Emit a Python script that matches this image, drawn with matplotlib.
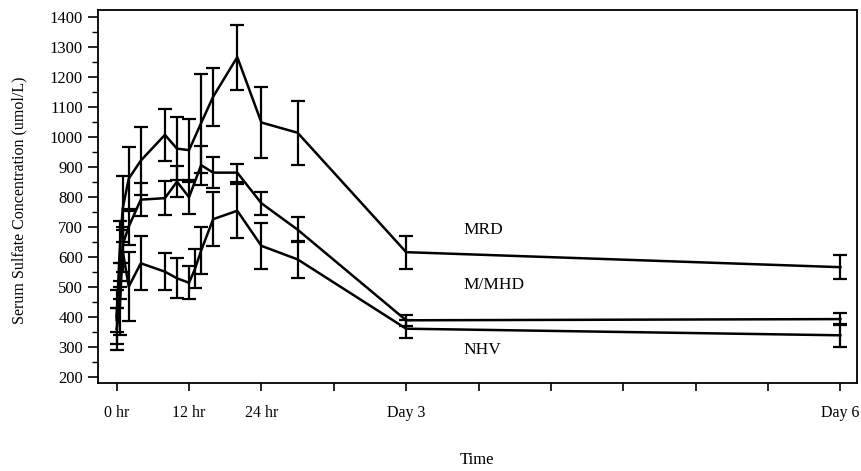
import numpy as np
import matplotlib.pyplot as plt
from matplotlib.ticker import MultipleLocator

plt.rcParams['font.family'] = ['Liberation Serif', 'DejaVu Serif']

# hours after start of dialysis (Day 3 = 48 hr, Day 6 = 120 hr)
mrd_t = [0, 0.5, 1, 2, 4, 8, 10, 12, 14, 16, 20, 24, 30, 48, 120]
mrd_v = [400, 620, 760, 860, 920, 1006, 960, 955, 1045, 1133, 1265, 1047, 1013, 615, 565]
mrd_e = [90, 100, 110, 107, 113, 87, 105, 105, 165, 97, 108, 118, 107, 55, 40]

mhd_t = [0, 0.5, 1, 2, 4, 8, 10, 12, 14, 16, 20, 24, 30, 48, 120]
mhd_v = [390, 520, 640, 700, 790, 795, 850, 798, 905, 880, 880, 778, 690, 388, 392]
mhd_e = [40, 60, 60, 60, 55, 57, 52, 57, 65, 52, 30, 38, 42, 18, 20]

nhv_t = [0, 0.5, 1, 2, 4, 8, 10, 12, 13, 14, 16, 20, 24, 30, 48, 120]
nhv_v = [360, 420, 620, 500, 578, 550, 528, 513, 560, 620, 725, 753, 636, 591, 360, 338]
nhv_e = [70, 80, 70, 115, 90, 62, 67, 55, 65, 78, 90, 90, 76, 62, 30, 38]

groups = ['MRD', 'M/MHD', 'NHV']
label_pos = [(57.5, 689), (57.5, 505), (57.5, 289)]

tick_hours = list(range(0, 121, 12))
tick_text = ['0 hr', '12 hr', '24 hr', '', 'Day 3', '', '', '', '', '', 'Day 6']

fig = plt.figure(figsize=(8.62, 4.71), dpi=100)
ax = fig.add_axes([0.1133, 0.1868, 0.8805, 0.792])

for t, v, e in [(mrd_t, mrd_v, mrd_e), (mhd_t, mhd_v, mhd_e), (nhv_t, nhv_v, nhv_e)]:
    ax.errorbar(t, v, yerr=e, color='k', lw=1.8, elinewidth=1.6,
                capsize=5, capthick=1.6)

for name, (x, y) in zip(groups, label_pos):
    ax.text(x, y, name, fontsize=12.5, va='center', ha='left')

ax.set_xlim(-3.15, 122.7)
ax.set_ylim(179, 1422)
ax.set_xticks(tick_hours)
ax.set_xticklabels(tick_text, fontsize=11.5)
ax.yaxis.set_major_locator(MultipleLocator(100))
ax.yaxis.set_minor_locator(MultipleLocator(50))
ax.set_yticks(range(200, 1401, 100))
ax.tick_params(axis='y', which='major', length=7, width=1.2, pad=3.5, labelsize=12)
ax.tick_params(axis='y', which='minor', length=4, width=1.0)
ax.tick_params(axis='x', length=6, width=1.2, pad=10)

for s in ax.spines.values():
    s.set_linewidth(1.3)

ax.set_xlabel('Time', fontsize=12, labelpad=22)
ax.set_ylabel('Serum Sulfate Concentration (umol/L)', fontsize=11.5)
ax.yaxis.set_label_coords(-0.093, 0.49)

fig.savefig('out.png', dpi=100)
